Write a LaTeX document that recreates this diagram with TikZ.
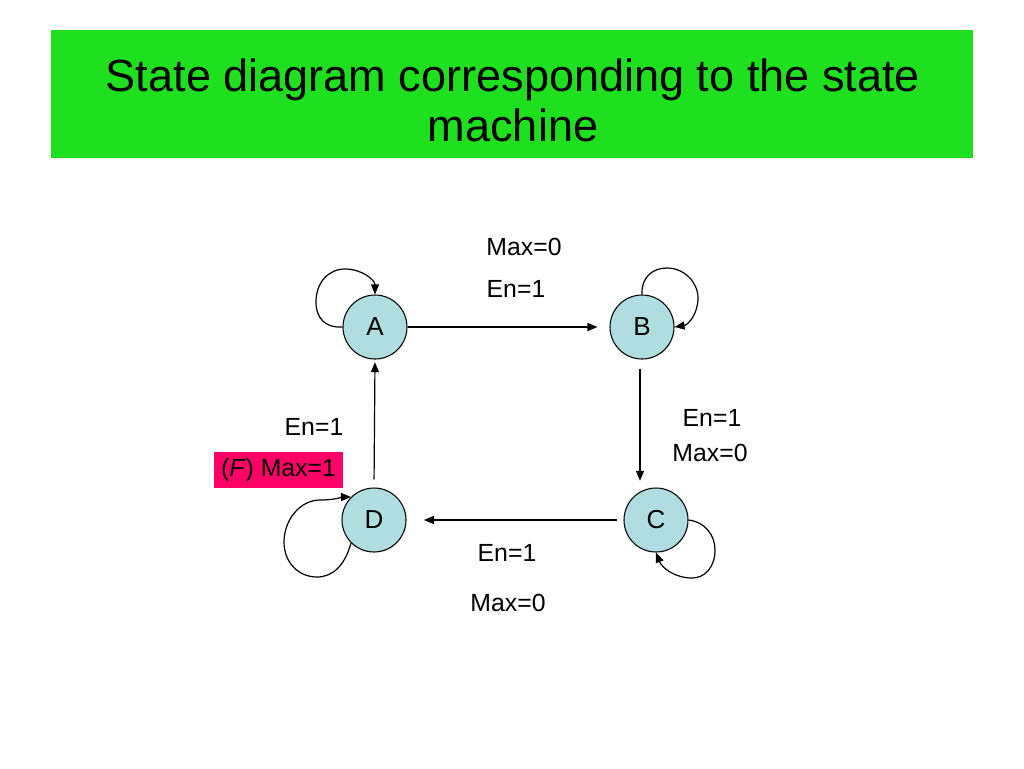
\documentclass[tikz,border=0pt]{standalone}
\usepackage{fontspec}
\setmainfont{Liberation Sans}
\usetikzlibrary{arrows.meta}
\definecolor{titlegreen}{RGB}{30,224,30}
\definecolor{tagpink}{RGB}{255,0,102}
\definecolor{statefill}{RGB}{176,221,224}
\begin{document}
\begin{tikzpicture}[x=0.75pt,y=-0.75pt,
  state/.style={circle,draw=black,line width=0.8pt,fill=statefill,minimum size=48pt,inner sep=0pt,font=\fontsize{19.5}{22}\selectfont},
  lbl/.style={font=\fontsize{18.6}{22}\selectfont,inner sep=0pt},
  edge/.style={line width=0.9pt,-{Triangle[length=7.5pt,width=6pt]}}]
\path[use as bounding box,fill=white] (0,0) rectangle (1024,768);
\node[fill=titlegreen,minimum width=691.5pt,minimum height=96pt,inner sep=0pt] (title) at (512,94) {};
\node[align=center,font=\fontsize{33.8}{37.5}\selectfont,inner sep=0pt] (tt) at (513,100) {State diagram corresponding to the state\\machine};
\node[state] (A) at (375,327) {A};
\node[state] (B) at (642,327) {B};
\node[state] (C) at (656,520) {C};
\node[state] (D) at (374,520) {D};
% straight transitions
\draw[edge,shorten >=9pt] (A.east) -- (B.west);
\draw[edge,shorten <=7pt,shorten >=5pt] ([xshift=-1.5pt]B.south) -- ([xshift=-1.5pt]B.south |- C.north);
\draw[edge,shorten <=5pt,shorten >=13pt] (C.west) -- (D.east);
\draw[edge,shorten <=6pt,shorten >=2pt] (D.north) -- (A.south);
% self loops
\draw[edge] (A.west) .. controls (325,328) and (316,318) .. (316,302) .. controls (316,283) and (328,269) .. (345,269) .. controls (362,269) and (375,280) .. (A.north);
\draw[edge] (B.north) .. controls (641,278) and (652,268) .. (667,268) .. controls (684,268) and (698,282) .. (698,298) .. controls (698,314) and (688,325) .. (B.east);
\draw[edge] (C.east) .. controls (705,522) and (715,535) .. (715,550) .. controls (715,567) and (705,578) .. (692,578) .. controls (675,578) and (662,568) .. (C.south);
\draw[edge] (D.south west) .. controls (345,565) and (333,577) .. (317,577) .. controls (298,577) and (284,562) .. (284,542) .. controls (284,520) and (300,500) .. (320,500) .. controls (335,500) and (343,497) .. (D.north west);
% labels
\node[lbl] (l1) at (524,247) {Max=0};
\node[lbl] (l2) at (516,289) {En=1};
\node[lbl] (l3) at (712,418) {En=1};
\node[lbl] (l4) at (710,453) {Max=0};
\node[lbl] (l5) at (314,427) {En=1};
\node[fill=tagpink,minimum width=96.75pt,minimum height=27pt,inner sep=0pt,font=\fontsize{18.6}{22}\selectfont] (l6) at (278.5,470) {(\textit{F}) Max=1};
\node[lbl] (l7) at (507,553) {En=1};
\node[lbl] (l8) at (508,603) {Max=0};
\end{tikzpicture}
\end{document}
